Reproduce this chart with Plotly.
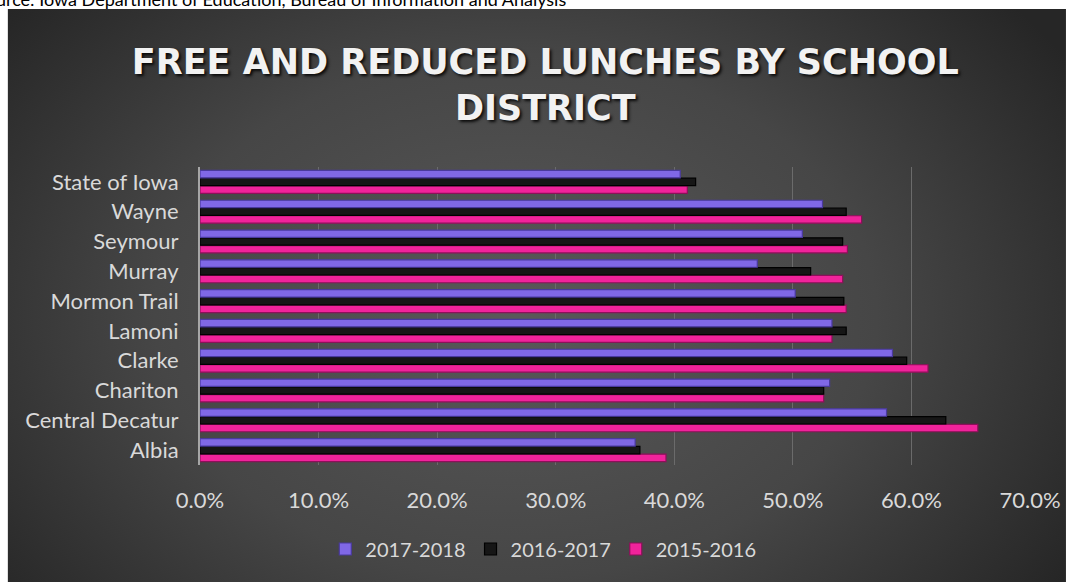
import base64
import plotly.graph_objects as go

# ---------------- data ----------------
districts = ["Albia", "Central Decatur", "Chariton", "Clarke", "Lamoni",
             "Mormon Trail", "Murray", "Seymour", "Wayne", "State of Iowa"]
y2015_2016 = [0.393, 0.656, 0.526, 0.614, 0.533, 0.545, 0.542, 0.546, 0.558, 0.411]
y2016_2017 = [0.371, 0.629, 0.526, 0.596, 0.545, 0.543, 0.515, 0.542, 0.545, 0.418]
y2017_2018 = [0.367, 0.579, 0.531, 0.584, 0.533, 0.502, 0.470, 0.508, 0.525, 0.405]
x_ticks = [0.0, 0.1, 0.2, 0.3, 0.4, 0.5, 0.6, 0.7]

title_text = "FREE AND REDUCED LUNCHES BY SCHOOL<br>DISTRICT"
source_text = "Source: Iowa Department of Education, Bureau of Information and Analysis"

# ---------------- layout geometry (pixels) ----------------
W, H = 1076, 582
L, R, T, B = 199.5, 1030.0, 167.0, 465.0
pw, ph = R - L, B - T


def px_x(x):
    return (x - L) / pw


def px_y(y):
    return (B - y) / ph


FONT = "Lato"
TXT = "#d9d9d9"

fig = go.Figure()

series = [
    ("2015-2016", y2015_2016, "#f0239b", "#8e0f5a"),
    ("2016-2017", y2016_2017, "#161616", "#000000"),
    ("2017-2018", y2017_2018, "#8068e6", "#4a3a9e"),
]
for name, vals, col, line in series:
    fig.add_trace(go.Bar(
        y=districts, x=vals, name=name, orientation="h",
        marker=dict(color=col, line=dict(color=line, width=1.2)),
        hovertemplate="%{y}: %{x:.1%}<extra>" + name + "</extra>",
    ))

# radial gradient background as inline svg
svg = (
    '<svg xmlns="http://www.w3.org/2000/svg" width="1059" height="573" '
    'viewBox="0 0 1059 573" preserveAspectRatio="none">'
    '<defs><radialGradient id="g" cx="0.48" cy="0.52" r="0.62" '
    'gradientTransform="translate(0.48 0.52) scale(1 1.3) translate(-0.48 -0.52)">'
    '<stop offset="0" stop-color="#595959"/>'
    '<stop offset="0.55" stop-color="#464646"/>'
    '<stop offset="1" stop-color="#262626"/>'
    '</radialGradient></defs>'
    '<rect width="1059" height="573" fill="url(#g)"/></svg>'
)
src = "data:image/svg+xml;base64," + base64.b64encode(svg.encode()).decode()
bx0, bx1, by0, by1 = 7, 1066, 9, 600
fig.add_layout_image(dict(
    source=src, xref="paper", yref="paper",
    x=px_x(bx0), y=px_y(by0),
    sizex=(bx1 - bx0) / pw, sizey=(by1 - by0) / ph,
    xanchor="left", yanchor="top", sizing="stretch", layer="below",
))

fig.add_annotation(
    text=source_text, xref="paper", yref="paper",
    x=px_x(-27), y=px_y(12), xanchor="left", yanchor="bottom",
    showarrow=False, font=dict(family=FONT, size=18, color="#000000"),
)

fig.update_layout(
    width=W, height=H,
    margin=dict(l=L, r=W - R, t=T, b=H - B, pad=0),
    paper_bgcolor="white",
    plot_bgcolor="rgba(0,0,0,0)",
    barmode="group", bargap=0.22, bargroupgap=0.04,
    title=dict(
        text=title_text,
        xref="paper", x=px_x(545), xanchor="center",
        y=1 - 74 / H, yanchor="middle",
        font=dict(family="DejaVu Sans", size=35, color="#f2f2f2", weight="bold",
                  shadow="2px 2px 3px rgba(0,0,0,0.85)"),
    ),
    showlegend=True,
    legend=dict(
        orientation="h", traceorder="reversed",
        x=px_x(543), y=px_y(549), xanchor="center", yanchor="middle",
        font=dict(family=FONT, size=20, color=TXT),
        bgcolor="rgba(0,0,0,0)", itemwidth=30,
    ),
    font=dict(family=FONT, color=TXT),
)

fig.update_xaxes(
    range=[0, 0.7], tickvals=x_ticks, tickformat=".1%",
    showgrid=True, gridcolor="#6b6b6b", gridwidth=1,
    zeroline=False, showline=False, ticks="",
    tickfont=dict(family=FONT, size=22, color=TXT), ticklabelstandoff=20,
)
fig.update_yaxes(
    showgrid=False, zeroline=False,
    showline=True, linecolor="#a6a6a6", linewidth=2,
    ticks="", tickfont=dict(family=FONT, size=22, color=TXT),
    ticklabelstandoff=15,
)

fig.write_html("out.html", config={"displayModeBar": False},
               post_script="document.body.style.margin='0';")
